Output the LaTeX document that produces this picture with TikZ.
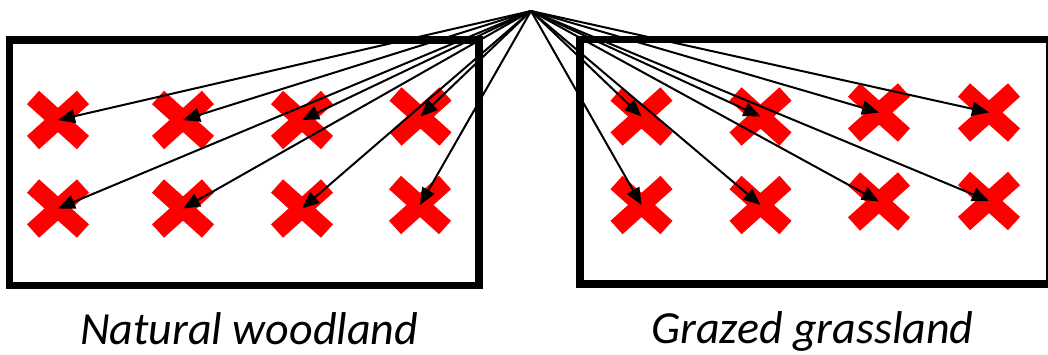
\documentclass[tikz,border=0pt]{standalone}
\usepackage{fontspec}
\setmainfont{Carlito}
\usetikzlibrary{arrows.meta}
\tikzset{
  x=1pt, y=-1pt,
  box/.style={draw=black, line width=7.5pt, fill=none, inner sep=0pt, outer sep=0pt},
  xmark/.pic={\draw[red, line width=18pt] (-25,-22.5)--(25,22.5) (-25,22.5)--(25,-22.5);},
  arr/.style={draw=black, line width=2pt, -{Triangle[length=17pt,width=14pt]}},
  lbl/.style={inner sep=0pt, anchor=base west, font=\fontsize{46}{52}\selectfont\itshape}
}
\begin{document}
\begin{tikzpicture}
\useasboundingbox (0,0) rectangle (1048,354);
\fill[white] (0,0) rectangle (1048,354);
% boxes
\node[box, minimum width=469.5pt, minimum height=245.5pt] (wood) at (244.25,162.75) {};
\node[box, minimum width=469.5pt, minimum height=244.5pt] (grass) at (814.75,161.75) {};
% apex
\coordinate (apex) at (531,11);
% cross positions
\coordinate (L11) at (58,120);
\coordinate (L12) at (183,120);
\coordinate (L13) at (302,120);
\coordinate (L14) at (420.5,116.5);
\coordinate (L21) at (58,208.5);
\coordinate (L22) at (183,208.5);
\coordinate (L23) at (302,208.5);
\coordinate (L24) at (420,205);
\coordinate (R11) at (641.5,116.5);
\coordinate (R12) at (760.5,116.5);
\coordinate (R13) at (879,112.5);
\coordinate (R14) at (989,112.5);
\coordinate (R21) at (641.5,205);
\coordinate (R22) at (760.5,205);
\coordinate (R23) at (879,201.5);
\coordinate (R24) at (989,201);
\foreach \c in {L11,L12,L13,L14,L21,L22,L23,L24,R11,R12,R13,R14,R21,R22,R23,R24}
  \pic at (\c) {xmark};
\foreach \c in {L11,L12,L13,L14,L21,L22,L23,L24,R11,R12,R13,R14,R21,R22,R23,R24}
  \draw[arr] (apex) -- (\c);
% labels
\node[lbl] (woodlbl) at (80,344) {Natural woodland};
\node[lbl] (grasslbl) at (651,343) {Grazed grassland};
\end{tikzpicture}
\end{document}
